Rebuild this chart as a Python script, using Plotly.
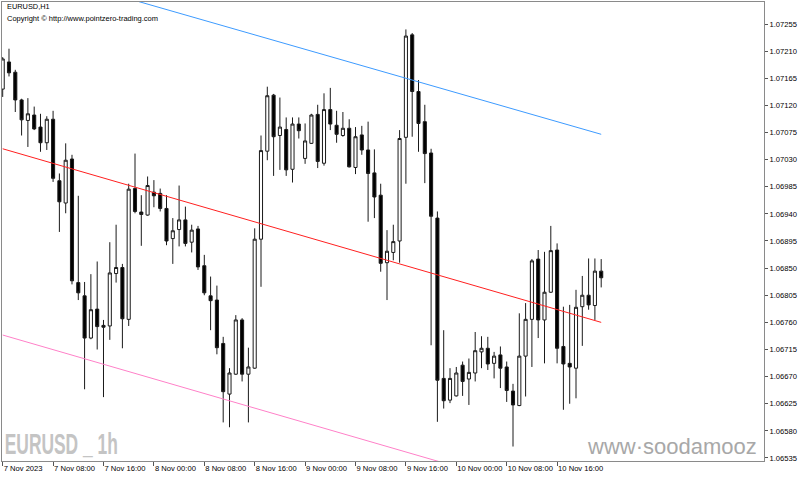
import plotly.graph_objects as go
import pandas as pd

# ---- data -------------------------------------------------------------
times = pd.date_range("2023-11-07 00:00", periods=96, freq="h")

open_ = [1.07147, 1.07192, 1.07175, 1.07129, 1.07095, 1.07104, 1.07084, 1.07058, 1.07097, 1.06995,
         1.06958, 1.07031, 1.06826, 1.06804, 1.06734, 1.06782, 1.06755, 1.06754, 1.06841, 1.06851,
         1.06765, 1.06982, 1.06943, 1.06938, 1.06976, 1.06974, 1.06949, 1.06899, 1.06914, 1.06930,
         1.06893, 1.06915, 1.06854, 1.06804, 1.06797, 1.06725, 1.06641, 1.06674, 1.06764, 1.06674,
         1.06684, 1.06898, 1.07044, 1.07137, 1.07070, 1.07080, 1.07014, 1.07089, 1.07032, 1.07057,
         1.07105, 1.07024, 1.07113, 1.07087, 1.07070, 1.07082, 1.07017, 1.07071, 1.07046, 1.07008,
         1.06971, 1.06859, 1.06876, 1.06895, 1.07067, 1.07237, 1.07143, 1.07093, 1.07041, 1.06933,
         1.06667, 1.06631, 1.06638, 1.06689, 1.06666, 1.06676, 1.06711, 1.06717, 1.06692, 1.06706,
         1.06686, 1.06646, 1.06622, 1.06704, 1.06765, 1.06865, 1.06764, 1.06810, 1.06880, 1.06720,
         1.06692, 1.06684, 1.06786, 1.06805, 1.06788, 1.06845]
high = [1.07200, 1.07214, 1.07179, 1.07131, 1.07132, 1.07118, 1.07106, 1.07102, 1.07111, 1.07007,
        1.07057, 1.07038, 1.06970, 1.06827, 1.06840, 1.06861, 1.06764, 1.06893, 1.06922, 1.06857,
        1.06990, 1.07040, 1.06971, 1.07002, 1.06996, 1.06982, 1.06971, 1.06933, 1.06987, 1.06952,
        1.06922, 1.06920, 1.06872, 1.06836, 1.06821, 1.06736, 1.06684, 1.06772, 1.06767, 1.06718,
        1.06916, 1.07070, 1.07151, 1.07139, 1.07133, 1.07100, 1.07100, 1.07100, 1.07090, 1.07106,
        1.07121, 1.07140, 1.07149, 1.07111, 1.07109, 1.07097, 1.07084, 1.07086, 1.07093, 1.07047,
        1.06990, 1.06913, 1.06922, 1.07079, 1.07246, 1.07240, 1.07162, 1.07121, 1.07048, 1.06944,
        1.06747, 1.06684, 1.06686, 1.06695, 1.06700, 1.06744, 1.06737, 1.06736, 1.06711, 1.06720,
        1.06695, 1.06658, 1.06775, 1.06792, 1.06865, 1.06880, 1.06877, 1.06920, 1.06891, 1.06786,
        1.06789, 1.06814, 1.06837, 1.06866, 1.06866, 1.06865]
low = [1.07134, 1.07168, 1.07109, 1.07070, 1.07051, 1.07079, 1.07043, 1.07046, 1.06993, 1.06910,
       1.06941, 1.06823, 1.06797, 1.06649, 1.06732, 1.06715, 1.06636, 1.06731, 1.06826, 1.06717,
       1.06754, 1.06941, 1.06887, 1.06937, 1.06951, 1.06944, 1.06888, 1.06857, 1.06886, 1.06886,
       1.06876, 1.06847, 1.06805, 1.06747, 1.06707, 1.06594, 1.06586, 1.06673, 1.06662, 1.06594,
       1.06683, 1.06819, 1.07029, 1.07003, 1.07013, 1.07003, 1.06992, 1.07065, 1.07023, 1.07056,
       1.07016, 1.07020, 1.07079, 1.07058, 1.07068, 1.07017, 1.07006, 1.07038, 1.06927, 1.06933,
       1.06844, 1.06797, 1.06863, 1.06859, 1.06990, 1.07068, 1.07043, 1.06991, 1.06722, 1.06595,
       1.06617, 1.06626, 1.06637, 1.06638, 1.06623, 1.06662, 1.06684, 1.06681, 1.06667, 1.06651,
       1.06628, 1.06554, 1.06621, 1.06637, 1.06686, 1.06734, 1.06692, 1.06809, 1.06692, 1.06615,
       1.06625, 1.06634, 1.06721, 1.06781, 1.06764, 1.06818]
close = [1.07197, 1.07174, 1.07129, 1.07096, 1.07106, 1.07081, 1.07058, 1.07097, 1.06999, 1.06960,
         1.07029, 1.06829, 1.06809, 1.06734, 1.06781, 1.06753, 1.06752, 1.06842, 1.06851, 1.06766,
         1.06981, 1.06944, 1.06939, 1.06987, 1.06970, 1.06949, 1.06895, 1.06912, 1.06930, 1.06891,
         1.06913, 1.06852, 1.06809, 1.06796, 1.06718, 1.06645, 1.06676, 1.06764, 1.06674, 1.06686,
         1.06898, 1.07045, 1.07136, 1.07068, 1.07084, 1.07013, 1.07089, 1.07078, 1.07061, 1.07104,
         1.07027, 1.07113, 1.07089, 1.07072, 1.07082, 1.07018, 1.07068, 1.07046, 1.07007, 1.06968,
         1.06858, 1.06878, 1.06894, 1.07065, 1.07235, 1.07143, 1.07090, 1.07040, 1.06936, 1.06664,
         1.06630, 1.06667, 1.06676, 1.06662, 1.06677, 1.06713, 1.06717, 1.06691, 1.06704, 1.06684,
         1.06647, 1.06623, 1.06704, 1.06765, 1.06862, 1.06764, 1.06810, 1.06879, 1.06717, 1.06691,
         1.06686, 1.06785, 1.06805, 1.06789, 1.06845, 1.06834]

# regression channel endpoints (first bar, last bar)
channel_times = [times[0], times[95]]
channel_upper = [1.07357, 1.07072]
channel_middle = [1.07048, 1.06760]
channel_lower = [1.06739, 1.06451]

x_tick_idx = [0, 8, 16, 24, 32, 40, 48, 56, 64, 72, 80, 88]
x_tick_labels = ["7 Nov 2023", "7 Nov 08:00", "7 Nov 16:00", "8 Nov 00:00", "8 Nov 08:00",
                 "8 Nov 16:00", "9 Nov 00:00", "9 Nov 08:00", "9 Nov 16:00", "10 Nov 00:00",
                 "10 Nov 08:00", "10 Nov 16:00"]
y_ticks = [1.07255, 1.07210, 1.07165, 1.07120, 1.07075, 1.07030, 1.06985, 1.06940, 1.06895,
           1.06850, 1.06805, 1.06760, 1.06715, 1.06670, 1.06625, 1.06580, 1.06535]

# ---- figure -----------------------------------------------------------
FONT = "Liberation Sans, Arial, sans-serif"
fig = go.Figure()

fig.add_trace(go.Candlestick(
    x=times, open=open_, high=high, low=low, close=close,
    increasing=dict(fillcolor="white", line=dict(color="#1a1a1a", width=1)),
    decreasing=dict(fillcolor="black", line=dict(color="#1a1a1a", width=1)),
    whiskerwidth=0, hoverinfo="skip", showlegend=False,
))

for ys, col in [(channel_upper, "#3d9bff"), (channel_middle, "#ff2020"), (channel_lower, "#ff80c8")]:
    fig.add_trace(go.Scatter(x=channel_times, y=ys, mode="lines",
                             line=dict(color=col, width=1), hoverinfo="skip", showlegend=False))

fig.update_layout(
    width=800, height=477,
    margin=dict(l=2, r=36, t=2, b=16, autoexpand=False),
    paper_bgcolor="white", plot_bgcolor="white",
    font=dict(family=FONT, size=8, color="black"),
    showlegend=False,
    xaxis=dict(
        type="date",
        range=["2023-11-06 23:53:24", "2023-11-12 00:50:24"],
        rangeslider=dict(visible=False),
        tickvals=[times[i] for i in x_tick_idx], ticktext=x_tick_labels,
        tickangle=0, automargin=False,
        ticks="outside", ticklen=4, tickcolor="#555555",
        ticklabelposition="outside right",
        tickfont=dict(family=FONT, size=7.6, color="black"),
        showgrid=False, zeroline=False,
        showline=True, mirror=True, linecolor="#8a8a8a", linewidth=1,
    ),
    yaxis=dict(
        side="right", automargin=False,
        range=[1.06530, 1.072915],
        tickvals=y_ticks, tickformat=".5f",
        ticks="outside", ticklen=3, tickcolor="#555555",
        tickfont=dict(family=FONT, size=7.6, color="black"),
        showgrid=False, zeroline=False,
        showline=True, mirror=True, linecolor="#8a8a8a", linewidth=1,
    ),
)

fig.add_annotation(xref="paper", yref="paper", x=0.004, y=0.99, xanchor="left", yanchor="middle",
                   text="EURUSD,H1", showarrow=False, font=dict(family=FONT, size=7.4, color="black"))
fig.add_annotation(xref="paper", yref="paper", x=0.004, y=0.964, xanchor="left", yanchor="middle",
                   text="Copyright © http://www.pointzero-trading.com", showarrow=False,
                   font=dict(family=FONT, size=7.5, color="black"))
fig.add_annotation(xref="paper", yref="paper", x=0.078, y=0.038, xanchor="center", yanchor="middle",
                   text="<b>EURUSD _ 1h</b>", showarrow=False,
                   font=dict(family="Liberation Sans", size=29, color="#c4c4c4"))
fig.add_annotation(xref="paper", yref="paper", x=0.993, y=0.032, xanchor="right", yanchor="middle",
                   text="www·soodamooz", showarrow=False,
                   font=dict(family=FONT, size=22, color="#a8a8a8"))

# condense the big watermark glyphs horizontally (the original uses a narrow face)
post = """
document.querySelectorAll('text.annotation-text').forEach(function(t){
  if (t.textContent.indexOf('EURUSD _') === 0) {
    t.setAttribute('textLength', '113');
    t.setAttribute('lengthAdjust', 'spacingAndGlyphs');
  }
});
"""
fig.write_html("out.html", post_script=post)
